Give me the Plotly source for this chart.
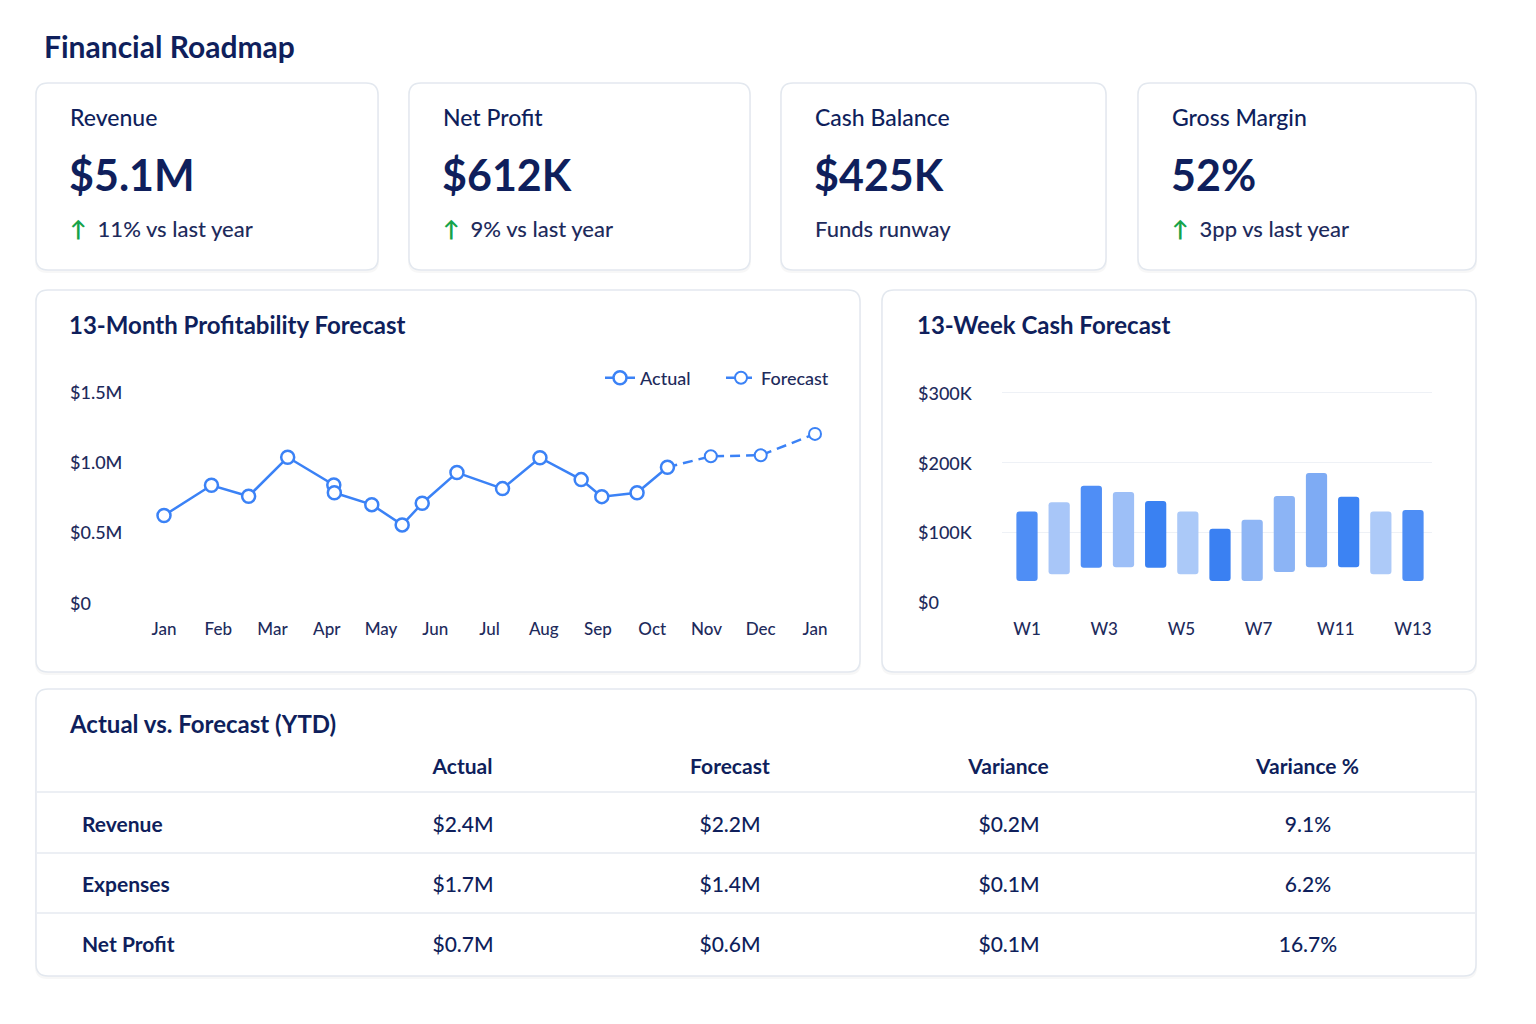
import numpy as np
import plotly.graph_objects as go

# ============================================================================
# Financial Roadmap dashboard — KPI cards, 13-month line, 13-week cash, YTD table
# ============================================================================

W, H = 1536, 1024
FONT = 'Lato'
NAVY = '#0f1f5c'
INK = '#1e2b5c'
BLUE = '#3b82f6'
GREEN = '#16a34a'
BORDER = '#e3e8ef'

# --- KPI cards ---
kpi_labels = ['Revenue', 'Net Profit', 'Cash Balance', 'Gross Margin']
kpi_values = ['$5.1M', '$612K', '$425K', '52%']
kpi_notes = ['11% vs last year', '9% vs last year', 'Funds runway', '3pp vs last year']
kpi_up = [True, True, False, True]

# --- 13-month profitability (x = month index, fractional where read between ticks) ---
month_labels = ['Jan', 'Feb', 'Mar', 'Apr', 'May', 'Jun', 'Jul',
                'Aug', 'Sep', 'Oct', 'Nov', 'Dec', 'Jan']
actual_month = [0, 0.875, 1.56, 2.28, 3.13, 3.14, 3.83, 4.39, 4.76,
                5.40, 6.24, 6.93, 7.69, 8.07, 8.72, 9.28]
actual_profit = [620e3, 835e3, 757e3, 1034e3, 837e3, 782e3, 697e3, 553e3, 707e3,
                 925e3, 811e3, 1031e3, 875e3, 754e3, 782e3, 963e3]
forecast_month = [9.28, 10.08, 11.0, 12.0]
forecast_profit = [963e3, 1041e3, 1048e3, 1200e3]
profit_ticks = [0, 500e3, 1000e3, 1500e3]
profit_tick_text = ['$0', '$0.5M', '$1.0M', '$1.5M']

# --- 13-week cash forecast (floating bars: low -> high) ---
weeks = [f'W{i}' for i in range(1, 14)]
cash_low = [30e3, 40e3, 49e3, 50e3, 49e3, 40e3, 30e3, 30e3, 43e3, 50e3, 50e3, 40e3, 30e3]
cash_high = [130e3, 143e3, 167e3, 158e3, 145e3, 130e3, 105e3, 118e3, 152e3, 185e3, 151e3, 130e3, 132e3]
bar_colors = ['#4f8ef5', '#a8c6f8', '#4f8ef6', '#9dbff7', '#3a81f2', '#abc9f8', '#3a80f2',
              '#8fb6f5', '#8cb4f5', '#7eabf4', '#3c83f3', '#adcaf8', '#4e8ef5']
week_tick_text = ['W1', 'W3', 'W5', 'W7', 'W11', 'W13']
cash_ticks = [0, 100e3, 200e3, 300e3]
cash_tick_text = ['$0', '$100K', '$200K', '$300K']

# --- YTD table ---
tbl_cols = ['Actual', 'Forecast', 'Variance', 'Variance %']
tbl_rows = ['Revenue', 'Expenses', 'Net Profit']
tbl_actual = ['$2.4M', '$1.7M', '$0.7M']
tbl_forecast = ['$2.2M', '$1.4M', '$0.6M']
tbl_variance = ['$0.2M', '$0.1M', '$0.1M']
tbl_variance_pct = ['9.1%', '6.2%', '16.7%']


def px(x):
    return x / W


def py(y):
    return 1 - y / H


def rrect(x0, y0, x1, y1, r):
    return (f"M {px(x0 + r)},{py(y0)} L {px(x1 - r)},{py(y0)} "
            f"Q {px(x1)},{py(y0)} {px(x1)},{py(y0 + r)} L {px(x1)},{py(y1 - r)} "
            f"Q {px(x1)},{py(y1)} {px(x1 - r)},{py(y1)} L {px(x0 + r)},{py(y1)} "
            f"Q {px(x0)},{py(y1)} {px(x0)},{py(y1 - r)} L {px(x0)},{py(y0 + r)} "
            f"Q {px(x0)},{py(y0)} {px(x0 + r)},{py(y0)} Z")


shapes, annos = [], []


def panel(x0, y0, x1, y1, r=12):
    shapes.append(dict(type='path', xref='paper', yref='paper', layer='below',
                       path=rrect(x0 - 1, y0, x1 + 1, y1 + 3, r),
                       fillcolor='rgba(15,23,42,0.035)', line=dict(width=0)))
    shapes.append(dict(type='path', xref='paper', yref='paper', layer='below',
                       path=rrect(x0, y0, x1, y1, r),
                       fillcolor='white', line=dict(color=BORDER, width=1.5)))


def text(x, y, s, size, bold=False, color=NAVY, weight=500):
    annos.append(dict(x=px(x), y=py(y), xref='paper', yref='paper', text=s,
                      showarrow=False, xanchor='left', yanchor='middle',
                      font=dict(family=FONT, size=size, color=color,
                                weight=700 if bold else weight)))


text(42, 46, 'Financial Roadmap', 30, bold=True)

# KPI cards
cards = [(36, 378), (409, 750), (781, 1106), (1138, 1476)]
for (x0, x1), lab, val, note, up in zip(cards, kpi_labels, kpi_values, kpi_notes, kpi_up):
    panel(x0, 83, x1, 270)
    tx = x0 + 32
    text(tx, 117, lab, 23)
    text(tx - 1, 174, val, 43, bold=True)
    note_txt = f'<span style="color:{GREEN}"><b>↑</b></span>  {note}' if up else note
    text(tx, 228, note_txt, 22, color=INK)

# chart panels
panel(36, 290, 860, 672)
panel(882, 290, 1476, 672)
panel(36, 689, 1476, 976)
text(67, 324, '13-Month Profitability Forecast', 24, bold=True)
text(915, 324, '13-Week Cash Forecast', 24, bold=True)
text(67, 723, 'Actual vs. Forecast (YTD)', 24, bold=True)

fig = go.Figure()

# line chart
fig.add_trace(go.Scatter(x=forecast_month, y=forecast_profit, mode='lines+markers', name='Forecast',
                         line=dict(color=BLUE, width=2.5, dash='10px,6px'),
                         marker=dict(symbol='circle', size=12, color='white',
                                     line=dict(color=BLUE, width=2)),
                         cliponaxis=False, xaxis='x', yaxis='y'))
fig.add_trace(go.Scatter(x=actual_month, y=actual_profit, mode='lines+markers', name='Actual',
                         line=dict(color=BLUE, width=2.5),
                         marker=dict(symbol='circle', size=13, color='white',
                                     line=dict(color=BLUE, width=2.5)),
                         cliponaxis=False, xaxis='x', yaxis='y'))

# floating cash bars
fig.add_trace(go.Bar(x=list(range(len(weeks))), y=np.array(cash_high) - np.array(cash_low),
                     base=cash_low, marker=dict(color=bar_colors, cornerradius=3, line=dict(width=0)),
                     width=0.66, showlegend=False, hovertext=weeks, xaxis='x2', yaxis='y2'))

# table
cell_font = dict(family=FONT, size=21, color=NAVY, weight=500)
fig.add_trace(go.Table(
    domain=dict(x=[px(74), px(1462)], y=[py(983), py(745)]),
    columnwidth=[256, 266, 268, 290, 308],
    header=dict(values=[''] + [f'<b>{c}</b>' for c in tbl_cols],
                align=['left', 'center', 'center', 'center', 'center'],
                height=58, fill_color='rgba(0,0,0,0)', line=dict(color='rgba(0,0,0,0)', width=0),
                font=cell_font),
    cells=dict(values=[[f'<b>{r}</b>' for r in tbl_rows],
                       [f'<span>{v}</span>' for v in tbl_actual],
                       [f'<span>{v}</span>' for v in tbl_forecast],
                       [f'<span>{v}</span>' for v in tbl_variance],
                       [f'<span>{v}</span>' for v in tbl_variance_pct]],
               align=['left', 'center', 'center', 'center', 'center'],
               height=60, fill_color='rgba(0,0,0,0)', line=dict(color='rgba(0,0,0,0)', width=0),
               font=cell_font),
))
for yl in [792, 853, 913]:
    shapes.append(dict(type='line', xref='paper', yref='paper', layer='above',
                       x0=px(37), x1=px(1475), y0=py(yl), y1=py(yl),
                       line=dict(color='#e6eaf0', width=1.5)))

# y tick labels, left aligned as in the reference
tick_lab_font = dict(family=FONT, size=18, color=INK, weight=500)
for v, t in zip(profit_ticks, profit_tick_text):
    annos.append(dict(x=px(68), y=v, xref='paper', yref='y', text=t, showarrow=False,
                      xanchor='left', yanchor='middle', font=tick_lab_font))
for v, t in zip(cash_ticks, cash_tick_text):
    annos.append(dict(x=px(916), y=v, xref='paper', yref='y2', text=t, showarrow=False,
                      xanchor='left', yanchor='middle', font=tick_lab_font))

tick_font = dict(family=FONT, size=17, color=INK, weight=500)
fig.update_layout(
    width=W, height=H, margin=dict(l=0, r=0, t=0, b=0),
    paper_bgcolor='white', plot_bgcolor='rgba(0,0,0,0)',
    font=dict(family=FONT, color=NAVY),
    shapes=shapes, annotations=annos,
    showlegend=True,
    legend=dict(orientation='h', x=px(842), xanchor='right', y=py(378), yanchor='middle',
                font=dict(family=FONT, size=18, color=INK, weight=500), bgcolor='rgba(0,0,0,0)',
                itemwidth=30, entrywidth=76, traceorder='reversed'),
    xaxis=dict(domain=[px(140), px(840)], range=[-(164 - 140) / 54.25, 12 + (840 - 815) / 54.25],
               tickvals=list(range(len(month_labels))), ticktext=month_labels,
               showgrid=False, zeroline=False, showline=False, ticks='', tickfont=tick_font,
               ticklabelstandoff=14),
    yaxis=dict(domain=[py(602.7), py(391.7)], range=[0, 1.5e6], showgrid=False,
               zeroline=False, showticklabels=False),
    xaxis2=dict(domain=[px(1002), px(1432)], range=[-(1027 - 1002) / 32.17, 12 + (1432 - 1413) / 32.17],
                tickvals=np.linspace(0, 12, len(week_tick_text)), ticktext=week_tick_text,
                showgrid=False, zeroline=False, showline=False, ticks='', tickfont=tick_font,
                ticklabelstandoff=15, anchor='y2'),
    yaxis2=dict(domain=[py(602), py(389.5)], range=[0, 305e3], tickvals=cash_ticks[1:],
                showgrid=True, gridcolor='#eef1f6', gridwidth=1,
                zeroline=False, showticklabels=False, anchor='x2'),
)

fig.write_html("out.html", config={'displayModeBar': False},
               post_script="document.body.style.margin='0';")
